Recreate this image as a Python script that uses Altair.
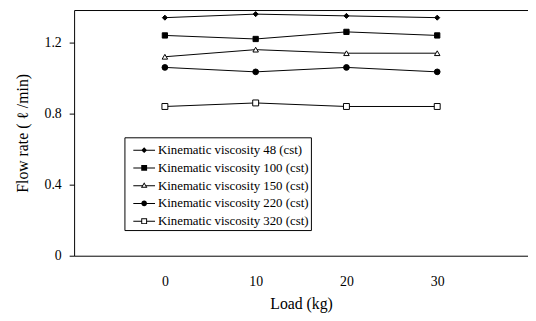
import altair as alt
import pandas as pd

loads = [0, 10, 20, 30]
series_names = [
    "Kinematic viscosity 48 (cst)",
    "Kinematic viscosity 100 (cst)",
    "Kinematic viscosity 150 (cst)",
    "Kinematic viscosity 220 (cst)",
    "Kinematic viscosity 320 (cst)",
]
v48 = [1.34, 1.36, 1.35, 1.34]
v100 = [1.24, 1.22, 1.26, 1.24]
v150 = [1.12, 1.16, 1.14, 1.14]
v220 = [1.06, 1.035, 1.06, 1.035]
v320 = [0.84, 0.86, 0.84, 0.84]
y_ticks = [0, 0.4, 0.8, 1.2]
x_ticks = [0, 10, 20, 30]

values = [v48, v100, v150, v220, v320]
rows = []
for name, vals in zip(series_names, values):
    for l, v in zip(loads, vals):
        rows.append({"load": l, "flow": v, "series": name})
df = pd.DataFrame(rows)

FONT = "Liberation Serif"

# styles
point_shapes = ["diamond", "square", "triangle-up", "circle", "square"]
point_fills = ["black", "black", "white", "black", "white"]
point_sizes = [26, 36, 30, 32, 34]

# legend glyphs (line + marker), drawn with fill only; open markers are rings
LINE = "M-1,-0.045L1,-0.045L1,0.045L-1,0.045Z"
legend_paths = [
    LINE + "M0,-0.27L0.27,0L0,0.27L-0.27,0Z",
    LINE + "M-0.27,-0.27L0.27,-0.27L0.27,0.27L-0.27,0.27Z",
    "M-1,-0.045L-0.18,-0.045L-0.18,0.045L-1,0.045Z"
    "M0.18,-0.045L1,-0.045L1,0.045L0.18,0.045Z"
    "M0,-0.32L0.3,0.2L-0.3,0.2Z"
    "M0,-0.15L-0.15,0.11L0.15,0.11Z",
    LINE + "M-0.26,0A0.26,0.26 0 1,1 0.26,0A0.26,0.26 0 1,1 -0.26,0Z",
    "M-1,-0.045L-0.27,-0.045L-0.27,0.045L-1,0.045Z"
    "M0.27,-0.045L1,-0.045L1,0.045L0.27,0.045Z"
    "M-0.27,-0.27L0.27,-0.27L0.27,0.27L-0.27,0.27Z"
    "M-0.18,-0.18L-0.18,0.18L0.18,0.18L0.18,-0.18Z",
]

xscale = alt.Scale(domain=[-10, 40], nice=False, zero=False)
yscale = alt.Scale(domain=[0, 1.383], nice=False)

X = alt.X(
    "load:Q",
    scale=xscale,
    axis=alt.Axis(
        values=x_ticks, title="Load (kg)", grid=False, ticks=False,
        labelPadding=19, titlePadding=8, domainColor="black",
        labelFont=FONT, labelFontSize=14, labelColor="black",
        titleFont=FONT, titleFontSize=16, titleFontWeight="normal", titleColor="black",
    ),
)
Y = alt.Y(
    "flow:Q",
    scale=yscale,
    axis=alt.Axis(
        values=y_ticks, title="Flow rate ( \u2113 /min)", grid=False,
        tickSize=5, tickColor="black", labelPadding=8, titlePadding=14,
        domainColor="black",
        labelExpr="datum.value == 0 ? '0' : format(datum.value, '.1f')",
        labelFont=FONT, labelFontSize=14, labelColor="black",
        titleFont=FONT, titleFontSize=16, titleFontWeight="normal", titleColor="black",
    ),
)

base = alt.Chart(df)

lines = base.mark_line(color="black", strokeWidth=1).encode(
    x=X, y=Y, detail="series:N"
)

points = base.mark_point(filled=True, stroke="black", strokeWidth=1, opacity=1).encode(
    x=alt.X("load:Q", scale=xscale, axis=None),
    y=alt.Y("flow:Q", scale=yscale, axis=None),
    shape=alt.Shape("series:N", scale=alt.Scale(domain=series_names, range=point_shapes), legend=None),
    fill=alt.Fill("series:N", scale=alt.Scale(domain=series_names, range=point_fills), legend=None),
    size=alt.Size("series:N", scale=alt.Scale(domain=series_names, range=point_sizes), legend=None),
)

leg = alt.Legend(
    title=None, orient="none", legendX=51, legendY=129,
    strokeColor="black", fillColor="white", padding=2,
    symbolOffset=7, symbolSize=484, symbolFillColor="black",
    symbolStrokeWidth=0, symbolOpacity=1, rowPadding=-1, labelOffset=3,
    labelFont=FONT, labelFontSize=13, labelColor="black", labelLimit=0,
    cornerRadius=0,
)

# legend-only layer: no rows survive the filter, the legend comes from the scale domain
legend_layer = base.transform_filter("datum.load < -100").mark_point(
    filled=True, fill="black", strokeWidth=0
).encode(
    x=alt.X("load:Q", scale=xscale,
            axis=alt.Axis(orient="top", labels=False, ticks=False, title=None,
                          grid=False, domain=True, domainColor="black")),
    y=alt.Y("flow:Q", scale=yscale, axis=None),
    shape=alt.Shape("series:N", scale=alt.Scale(domain=series_names, range=legend_paths),
                    legend=leg, sort=series_names),
)

chart = (
    alt.layer(lines, points, legend_layer)
    .resolve_scale(shape="independent", fill="independent", size="independent")
    .resolve_axis(x="independent", y="independent")
    .properties(
        width=460, height=249,
        autosize=alt.AutoSizeParams(type="none"),
        padding={"left": 67, "top": 0, "right": 0, "bottom": 56},
        background="white",
    )
    .configure_view(stroke=None)
)

chart.save("out.html", embed_options={"renderer": "svg", "actions": False})
